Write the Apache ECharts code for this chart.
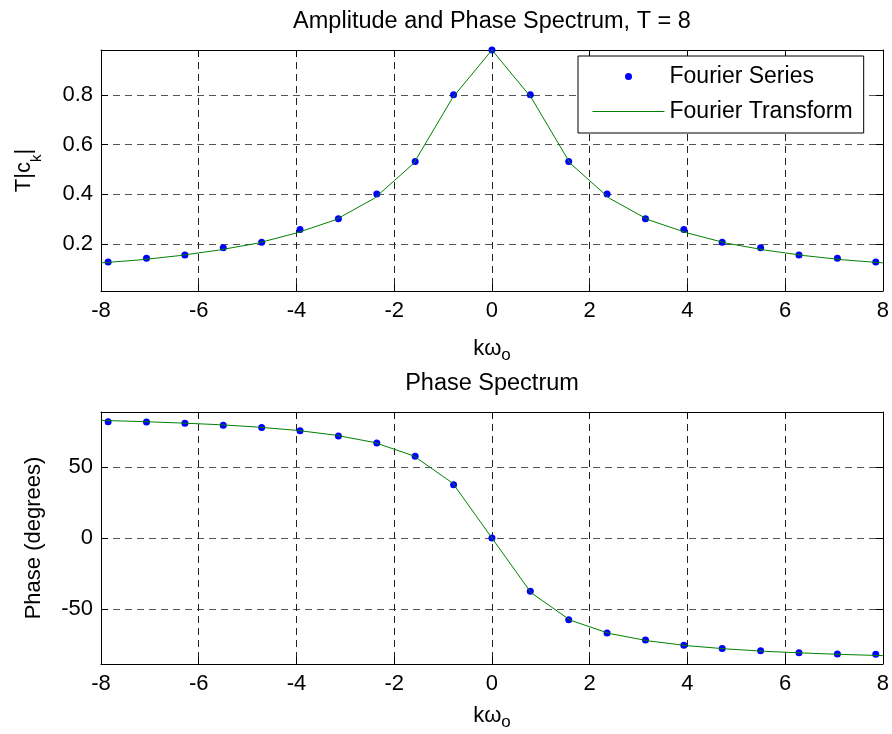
<!DOCTYPE html>
<html><head><meta charset="utf-8">
<script src="https://cdn.jsdelivr.net/npm/echarts@6/dist/echarts.min.js"></script>
<style>html,body{margin:0;padding:0;background:#fff}#c{width:892px;height:734px}</style>
</head><body><div id="c"></div>
<script>
// Fourier series samples (k * omega_0, T = 8)
const seriesX = [-7.854,-7.069,-6.283,-5.498,-4.712,-3.927,-3.142,-2.356,-1.571,-0.785,0,0.785,1.571,2.356,3.142,3.927,4.712,5.498,6.283,7.069,7.854];
const seriesAmp = [0.128,0.144,0.157,0.186,0.208,0.259,0.302,0.402,0.532,0.800,0.980,0.800,0.532,0.402,0.302,0.259,0.208,0.186,0.157,0.144,0.128];
const seriesPhase = [81.9,81.6,80.7,79.3,77.8,75.5,71.8,66.8,57.5,37.5,0,-37.5,-57.5,-66.8,-71.8,-75.5,-77.8,-79.3,-80.7,-81.6,-81.9];
// Fourier transform curve
const transformX = [-8,-7.2,-6.4,-5.6,-4.8,-4.0,-3.2,-2.4,-1.6,-0.8,0,0.8,1.6,2.4,3.2,4.0,4.8,5.6,6.4,7.2,8];
const transformAmp = [0.125,0.137,0.154,0.176,0.204,0.245,0.298,0.385,0.525,0.790,0.980,0.790,0.525,0.385,0.298,0.245,0.204,0.176,0.154,0.137,0.125];
const transformPhase = [82.8,82.0,81.0,79.8,78.1,75.8,72.4,67.2,57.8,38.5,0,-38.5,-57.8,-67.2,-72.4,-75.8,-78.1,-79.8,-81.0,-82.0,-82.8];
// ticks
const xTicks = [-8,-6,-4,-2,0,2,4,6,8];
const ampTicks = [0.2,0.4,0.6,0.8];
const phaseTicks = [-50,0,50];
const titles = ['Amplitude and Phase Spectrum, T = 8','Phase Spectrum'];
const legendNames = ['Fourier Series','Fourier Transform'];

const FONT = '"Liberation Sans", Arial, Helvetica, sans-serif';
const pair = (xs, ys) => xs.map((x, i) => [x, ys[i]]);

function xAx(gi, bottomGap) {
  return [{
    type:'value', gridIndex:gi, position:'bottom', min:-8, max:8,
    axisLine:{show:true, onZero:false, lineStyle:{color:'#000', width:1}},
    axisTick:{show:true, inside:true, length:7, customValues:xTicks, lineStyle:{color:'#000'}},
    axisLabel:{show:true, customValues:xTicks, margin:9, color:'#000', fontSize:22, fontFamily:FONT},
    splitLine:{show:true, lineStyle:{color:'#222', type:[7,5], width:1}},
    name:'{m|kω}{s|o}', nameLocation:'middle', nameGap:bottomGap,
    nameTextStyle:{color:'#000', fontFamily:FONT, fontSize:22,
      rich:{m:{fontSize:22, lineHeight:30, fontFamily:FONT, color:'#000'},
            s:{fontSize:17, lineHeight:17, verticalAlign:'bottom', fontFamily:FONT, color:'#000'}}}
  },{
    type:'value', gridIndex:gi, position:'top', min:-8, max:8,
    axisLine:{show:true, onZero:false, lineStyle:{color:'#000', width:1}},
    axisTick:{show:true, inside:true, length:7, customValues:xTicks, lineStyle:{color:'#000'}},
    axisLabel:{show:false}, splitLine:{show:false}
  }];
}
function yAx(gi, mn, mx, ticks, name, gap, rich) {
  return [{
    type:'value', gridIndex:gi, position:'left', min:mn, max:mx,
    axisLine:{show:true, onZero:false, lineStyle:{color:'#000', width:1}},
    axisTick:{show:true, inside:true, length:7, customValues:ticks, lineStyle:{color:'#000'}},
    axisLabel:{show:true, customValues:ticks, margin:8, color:'#000', fontSize:22, fontFamily:FONT},
    splitLine:{show:true, lineStyle:{color:'#555', type:[7,5], width:1}},
    name:name, nameLocation:'middle', nameGap:gap,
    nameTextStyle:{color:'#000', fontFamily:FONT, fontSize:22, rich:rich}
  },{
    type:'value', gridIndex:gi, position:'right', min:mn, max:mx,
    axisLine:{show:true, onZero:false, lineStyle:{color:'#000', width:1}},
    axisTick:{show:true, inside:true, length:7, customValues:ticks, lineStyle:{color:'#000'}},
    axisLabel:{show:false}, splitLine:{show:false}
  }];
}

const ampRich = {m:{fontSize:22, lineHeight:40, fontFamily:FONT, color:'#000'},
                 s:{fontSize:15, lineHeight:15, verticalAlign:'bottom', fontFamily:FONT, color:'#000'}};

const option = {
  backgroundColor:'#fff',
  animation:false,
  grid:[
    {left:101, right:8.5, top:50, height:241, containLabel:false},
    {left:101, right:8.5, top:412, height:252, containLabel:false}
  ],
  xAxis:[...xAx(0, 43), ...xAx(1, 37)],
  yAxis:[...yAx(0, 0.012, 0.98, ampTicks, '{m|T|c}{s|k}{m||}', 57, ampRich),
         ...yAx(1, -88.7, 88.7, phaseTicks, 'Phase (degrees)', 56, null)],
  graphic:[
    {type:'text', x:492, y:22, style:{text:titles[0], font:'23.5px '+FONT, fill:'#000', align:'center', verticalAlign:'middle'}},
    {type:'text', x:492, y:384, style:{text:titles[1], font:'23.5px '+FONT, fill:'#000', align:'center', verticalAlign:'middle'}}
  ],
  legend:{
    orient:'vertical', left:578, top:56,
    itemWidth:72, itemHeight:7, itemGap:12,
    padding:[9, 11, 10, 14],
    borderColor:'#000', borderWidth:1, borderRadius:0, backgroundColor:'#fff',
    textStyle:{fontFamily:FONT, fontSize:23, color:'#000', lineHeight:22},
    data:[{name:legendNames[0]},
          {name:legendNames[1], itemStyle:{opacity:0}, lineStyle:{color:'#008000', width:1}}],
    selectedMode:false
  },
  series:[
    {name:legendNames[0], type:'scatter', xAxisIndex:0, yAxisIndex:0, data:pair(seriesX, seriesAmp),
     symbol:'circle', symbolSize:7, symbolKeepAspect:true, itemStyle:{color:'#0000ff', opacity:1}, z:3},
    {name:legendNames[1], type:'line', xAxisIndex:0, yAxisIndex:0, data:pair(transformX, transformAmp),
     showSymbol:false, symbol:'none', lineStyle:{color:'#008000', width:1}, itemStyle:{color:'#008000'}, z:4},
    {name:legendNames[0], type:'scatter', xAxisIndex:2, yAxisIndex:2, data:pair(seriesX, seriesPhase),
     symbol:'circle', symbolSize:7, itemStyle:{color:'#0000ff', opacity:1}, z:3},
    {name:legendNames[1], type:'line', xAxisIndex:2, yAxisIndex:2, data:pair(transformX, transformPhase),
     showSymbol:false, symbol:'none', lineStyle:{color:'#008000', width:1}, itemStyle:{color:'#008000'}, z:4}
  ]
};
const chart = echarts.init(document.getElementById('c'), null, {renderer:'canvas'});
chart.setOption(option);
</script>
</body></html>
